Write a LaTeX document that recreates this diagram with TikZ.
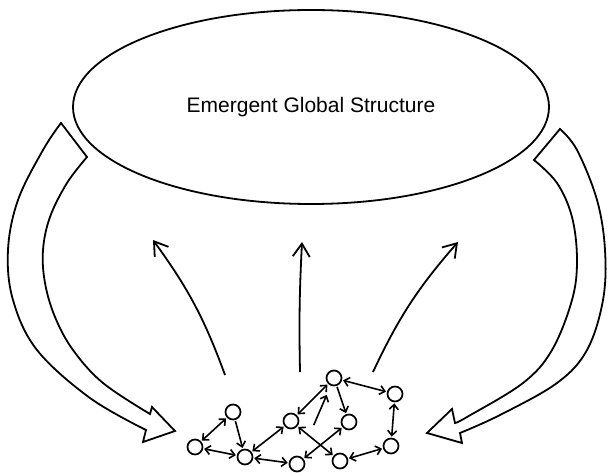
\documentclass[tikz,border=0pt]{standalone}
\usepackage{fontspec}
\setmainfont{Liberation Sans}
\usetikzlibrary{arrows.meta, shapes.geometric}

\begin{document}
\begin{tikzpicture}
		[x=1pt, y=-1pt,
		>={Straight Barb[length=5pt, width=9pt]},
		g/.style = {draw=black, ellipse, line width=1.8pt, minimum width=476pt, minimum height=194pt, inner sep=0pt, font=\fontsize{21}{25}\selectfont},
		c/.style = {draw=black, circle, line width=1.7pt, minimum size=15pt, inner sep=0pt},
		l/.style = {line width=1.6pt, shorten >=1pt, shorten <=1pt},
		up/.style = {line width=1.8pt, -{Straight Barb[length=13pt, width=17pt]}},
		fat/.style = {draw=black, line width=1.8pt, line join=miter}]

		\useasboundingbox (0,0) rectangle (608,473);

		\node[g] (global) at (311,107) {Emergent Global Structure};

		% local agents
		\foreach \n/\x/\y in {
			1/195/447, 2/233/412, 3/245/457, 4/291/421, 5/297/464,
			6/334/378, 7/349/422, 8/340/461, 9/395/394, 10/391/446}
		{
			\node[c] (n\n) at (\x,\y) {};
		}

		\draw[l] (n1) edge[<->] (n2);
		\draw[l] (n1) edge[<->] (n3);
		\draw[l] (n2) edge[->] (n3);
		\draw[l] (n3) edge[<->] (n4);
		\draw[l] (n3) edge[<->] (n5);
		\draw[l] (n4) edge[<->] (n6);
		\draw[l] (n4) edge[<->] (n8);
		\draw[l] (n5) edge[<->] (n7);
		\draw[l, shorten <=34pt, shorten >=10pt] (n5) edge[->] (n6);
		\draw[l] (n6) edge[->] (n7);
		\draw[l] (n6) edge[<->] (n9);
		\draw[l] (n9) edge[<->] (n10);
		\draw[l] (n10) edge[<->] (n8);

		% emergence
		\coordinate (s1) at (225,375);
		\coordinate (t1) at (153,240);
		\coordinate (s2) at (300,372);
		\coordinate (t2) at (302,242);
		\coordinate (s3) at (373,372);
		\coordinate (t3) at (458,242);
		\draw[up] (s1) to[bend right=8] (t1);
		\draw[up] (s2) to[bend left=2] (t2);
		\draw[up] (s3) to[bend left=8] (t3);

		% feedback
		\draw[fat] (61,123) -- (87,157)
			-- plot[smooth, tension=0.6] coordinates {(87,157) (67,183) (50,217) (43,250) (45,283) (55,317) (73,350) (103,383) (150,414)}
			-- (152,407) -- (175,431) -- (143,442)
			-- plot[smooth, tension=0.6] coordinates {(146,430) (90,398) (37,350) (13,300) (8,250) (18,200) (43,150) (61,123)}
			-- cycle;
		\draw[fat] (560,129) -- (534,160)
			-- plot[smooth, tension=0.6] coordinates {(534,160) (557,183) (572,217) (577,260) (572,300) (552,350) (523,383) (467,417) (455,423)}
			-- (452,409) -- (427,433) -- (462,443)
			-- plot[smooth, tension=0.6] coordinates {(460,433) (500,415) (557,383) (587,350) (603,300) (605,250) (597,200) (577,150) (560,129)}
			-- cycle;

	\end{tikzpicture}
\end{document}
